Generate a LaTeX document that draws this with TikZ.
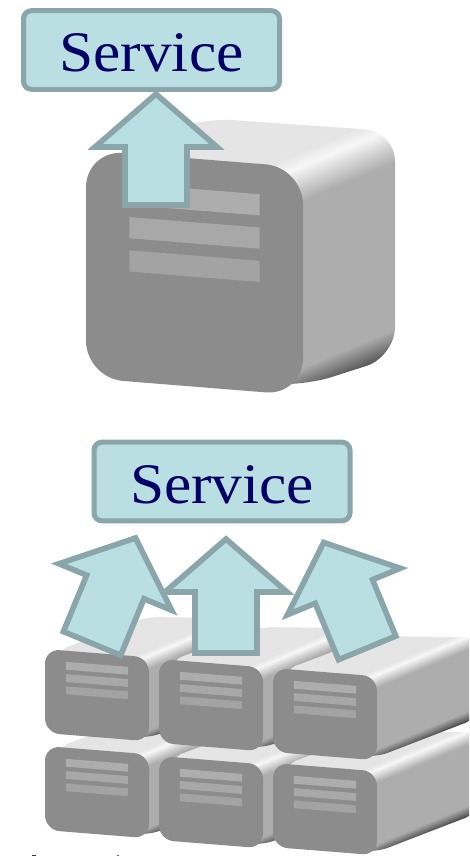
\documentclass[tikz,border=0pt]{standalone}
\usepackage{fontspec}
\newfontfamily\serviceFont[FakeStretch=1.07]{Liberation Serif}
\definecolor{serviceFill}{RGB}{185,223,226}
\definecolor{serviceLine}{RGB}{138,166,170}
\definecolor{serviceText}{RGB}{0,0,102}
\definecolor{serverFront}{RGB}{140,140,140}
\pgfdeclareverticalshading{serverSide}{100bp}{
    rgb(0bp)=(.12,.12,.12);
    rgb(42.4bp)=(.12,.12,.12);
    rgb(42.8bp)=(.35,.35,.35);
    rgb(44.2bp)=(.68,.68,.68);
    rgb(53.75bp)=(.68,.68,.68);
    rgb(55.75bp)=(.97,.97,.97);
    rgb(56.56bp)=(.9,.9,.9);
    rgb(100bp)=(.9,.9,.9)
}
\tikzset{
    servicebox/.style={
        draw=serviceLine,
        fill=serviceFill,
        line width=3.75pt,
        rounded corners=6pt,
        minimum width=192pt,
        minimum height=59pt,
        outer sep=0pt,
        text height=32.4pt,
        text depth=0pt,
        text=serviceText,
        font=\serviceFont\fontsize{43}{43}\selectfont
    },
    uparrow/.style={
        draw=serviceLine,
        fill=serviceFill,
        line width=4.2pt,
        miter limit=10
    }
}
% x, y, width, height of the front face, depth, offset of the rear left corner, corner
\newcommand{\ServerBox}[7]{
    \begin{scope}
        \clip[rounded corners={0.8*#7 pt}] (#1+0.11*#3,#2+2) -- (#1+#6,#2-32)
            -- (#1+#3+#5,#2+0.08*#3-0.39*#5) -- (#1+#3+#5,#2+#4+0.08*#3-0.42*#5)
            -- (#1+#3,#2+#4+0.08*#3-0.04*#4) -- (#1+0.5*#3,#2+#4) -- cycle;
        \shade[shading=serverSide,shading angle=22.7]
            ({#1+0.88*#3+0.1708*#4-1.77*#4},{#2+0.08*#3+0.4084*#4-1.77*#4})
            rectangle
            ({#1+0.88*#3+0.1708*#4+1.77*#4},{#2+0.08*#3+0.4084*#4+1.77*#4});
    \end{scope}
    \begin{scope}[cm={1,-0.08,0,1,(#1,#2)}]
        \fill[serverFront,rounded corners={#7 pt}] (0,0) rectangle (#3,#4);
        \fill[black!32] (0.2*#3,0.133*#4) rectangle (0.8*#3,0.226*#4);
        \fill[black!34] (0.2*#3,0.279*#4) rectangle (0.8*#3,0.372*#4);
        \fill[black!36] (0.2*#3,0.425*#4) rectangle (0.8*#3,0.518*#4);
    \end{scope}
}
% x, y of the tip centre, rotation, length
\newcommand{\ServiceArrow}[4]{
    \begin{scope}[shift={(#1,#2)},rotate=#3]
        \draw[uparrow] (0,0) -- (61,53) -- (31,53) -- (31,#4) -- (-31,#4) -- (-31,53) -- (-61,53) -- cycle;
    \end{scope}
}
\begin{document}
\begin{tikzpicture}[x=0.75pt,y=-0.75pt]
\useasboundingbox (0,0) rectangle (469,856);
\clip (0,0) rectangle (469,856);

% single server
\ServerBox{86}{150}{217}{228}{92}{117}{28}
\ServiceArrow{156}{94}{0}{111}
\node[servicebox] (serviceTop) at (151.5,50) {Service};

% bottom row, then top row
\foreach \px/\py in {45/746,159/756,273/763,45/649,159/659,273/668}{
    \ServerBox{\px}{\py}{104}{84}{100}{102}{11}
}
\ServiceArrow{226}{539}{0}{114}
\ServiceArrow{135.5}{538}{-22.4}{114}
\ServiceArrow{323.7}{542.5}{22.4}{114}
\node[servicebox] (serviceBottom) at (222,481.5) {Service};

\fill[black!80] (32,855) rectangle (36,856);
\fill[black!60] (117,855) rectangle (119,856);
\end{tikzpicture}
\end{document}
